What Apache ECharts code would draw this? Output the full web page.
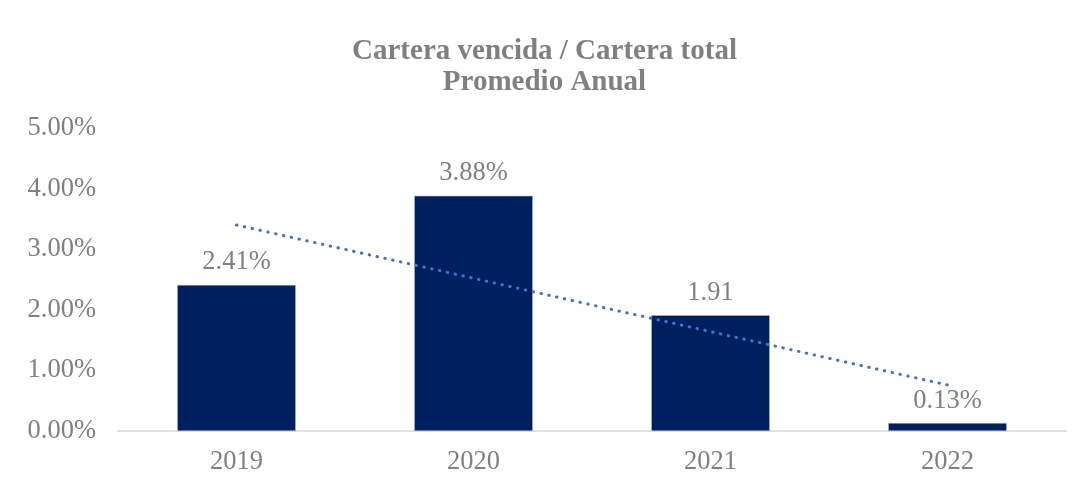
<!DOCTYPE html>
<html>
<head>
<meta charset="utf-8">
<script src="https://cdn.jsdelivr.net/npm/echarts@6/dist/echarts.min.js"></script>
<style>
  html, body { margin: 0; padding: 0; background: #fff; }
  #chart_container { width: 1089px; height: 492px; }
</style>
</head>
<body>
<div id="chart_container"></div>
<script>
var years = ["2019", "2020", "2021", "2022"];
var ratioValues = [2.41, 3.88, 1.91, 0.13];
var ratioLabels = ["2.41%", "3.88%", "1.91", "0.13%"];
// linear trend as drawn in the picture
var trendValues = [3.40, 2.52, 1.64, 0.76];

var dom = document.getElementById("chart_container");
var myChart = echarts.init(dom, null, { renderer: "canvas" });
var font = "'Liberation Serif', 'Times New Roman', serif";

var option = {
  backgroundColor: "#fff",
  animation: false,
  title: {
    text: "Cartera vencida / Cartera total\nPromedio Anual",
    left: "center",
    top: 31,
    textStyle: {
      fontFamily: font,
      fontSize: 29,
      fontWeight: "bold",
      color: "#808080",
      lineHeight: 31,
    },
  },
  grid: { left: 118, right: 23, top: 128, bottom: 61 },
  xAxis: {
    type: "category",
    data: years,
    axisTick: { show: false },
    axisLine: { lineStyle: { color: "#d9d9d9", width: 1.5 } },
    axisLabel: { fontFamily: font, fontSize: 26.5, color: "#808080", margin: 18 },
  },
  yAxis: {
    type: "value",
    min: 0,
    max: 5,
    interval: 1,
    splitLine: { show: false },
    axisLabel: {
      fontFamily: font,
      fontSize: 26.5,
      color: "#808080",
      margin: 22,
      formatter: function (v) { return v.toFixed(2) + "%"; },
    },
  },
  series: [
    {
      type: "bar",
      data: ratioValues,
      barWidth: "50%",
      itemStyle: { color: "#001f5f", borderColor: "#b4bfd6", borderWidth: 0.5 },
      label: {
        show: true,
        position: "top",
        distance: 9,
        fontFamily: font,
        fontSize: 26.5,
        color: "#808080",
        formatter: function (p) { return ratioLabels[p.dataIndex]; },
      },
    },
    {
      type: "line",
      data: trendValues,
      symbol: "none",
      z: 5,
      lineStyle: { color: "#4472c4", width: 3, type: [0.5, 7.5], cap: "round" },
    },
  ],
};

myChart.setOption(option);
window.addEventListener("resize", myChart.resize);
</script>
</body>
</html>
